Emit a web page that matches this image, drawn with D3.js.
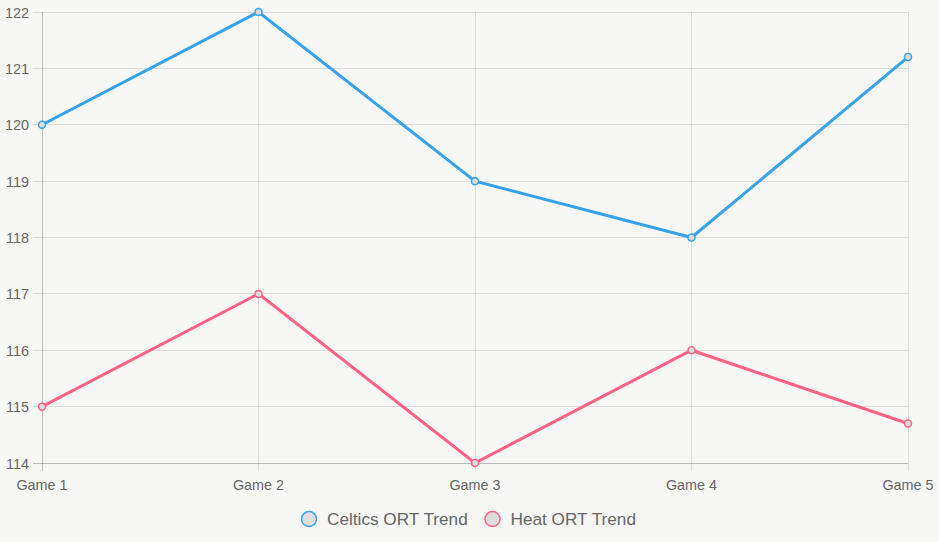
<!DOCTYPE html>
<html><head><meta charset="utf-8">
<script src="https://cdn.jsdelivr.net/npm/d3@7"></script>
<style>html,body{margin:0;padding:0;background:#f7f7f5;}svg{display:block;}</style>
</head><body><div id="c"></div>
<script>
const categories = ["Game 1","Game 2","Game 3","Game 4","Game 5"];
const celtics = [120, 122, 119, 118, 121.2];
const heat = [115, 117, 114, 116, 114.7];
const yTicks = [114,115,116,117,118,119,120,121,122];
const seriesNames = ["Celtics ORT Trend","Heat ORT Trend"];
const seriesColors = ["#36A2EB","#FF6384"];

const W=939,H=542;
const svg=d3.select("#c").append("svg").attr("width",W).attr("height",H);
svg.append("rect").attr("width",W).attr("height",H).attr("fill","#f7f7f5");
const L=42,R=908,T=12,B=463;
const x=d3.scalePoint().domain(categories).range([L,R]);
const y=d3.scaleLinear().domain([114,122]).range([B,T]);
const font="'Liberation Sans', Arial, Helvetica, sans-serif";
const grid="rgba(0,0,0,0.1)";

// horizontal grid
svg.append("g").selectAll("line").data(yTicks).join("line")
 .attr("x1",L-9).attr("x2",R).attr("y1",d=>y(d)).attr("y2",d=>y(d))
 .attr("stroke",d=>d===114?"rgba(0,0,0,0.25)":grid).attr("stroke-width",1).attr("shape-rendering","crispEdges");
// vertical grid
svg.append("g").selectAll("line").data(categories).join("line")
 .attr("x1",d=>x(d)).attr("x2",d=>x(d)).attr("y1",T).attr("y2",B+8)
 .attr("stroke",(d,i)=>i===0?"rgba(0,0,0,0.25)":grid).attr("stroke-width",1).attr("shape-rendering","crispEdges");

// y labels
svg.append("g").selectAll("text").data(yTicks).join("text")
 .attr("x",L-13).attr("y",d=>y(d)+5.5).attr("text-anchor","end")
 .attr("font-family",font).attr("font-size",14.4).attr("fill","#666").text(d=>d);
// x labels
svg.append("g").selectAll("text").data(categories).join("text")
 .attr("x",d=>x(d)).attr("y",490).attr("text-anchor","middle")
 .attr("font-family",font).attr("font-size",14.4).attr("fill","#666").text(d=>d);

const line=d3.line().x((d,i)=>x(categories[i])).y(d=>y(d));
[celtics,heat].forEach((s,k)=>{
  svg.append("path").datum(s).attr("d",line).attr("fill","none")
   .attr("stroke",seriesColors[k]).attr("stroke-width",3).attr("stroke-linejoin","miter");
  svg.append("g").selectAll("circle").data(s).join("circle")
   .attr("cx",(d,i)=>x(categories[i])).attr("cy",d=>y(d)).attr("r",3.5)
   .attr("fill","#ddd").attr("stroke",seriesColors[k]).attr("stroke-width",1.5);
});

// legend
const legend=svg.append("g");
const items=[{cx:309,tx:327},{cx:492.5,tx:510.5}];
items.forEach((it,k)=>{
  legend.append("circle").attr("cx",it.cx).attr("cy",519).attr("r",7.5)
   .attr("fill","#ddd").attr("stroke",seriesColors[k]).attr("stroke-width",1.5);
  legend.append("text").attr("x",it.tx).attr("y",525)
   .attr("font-family",font).attr("font-size",17.2).attr("fill","#666").text(seriesNames[k]);
});
</script></body></html>
